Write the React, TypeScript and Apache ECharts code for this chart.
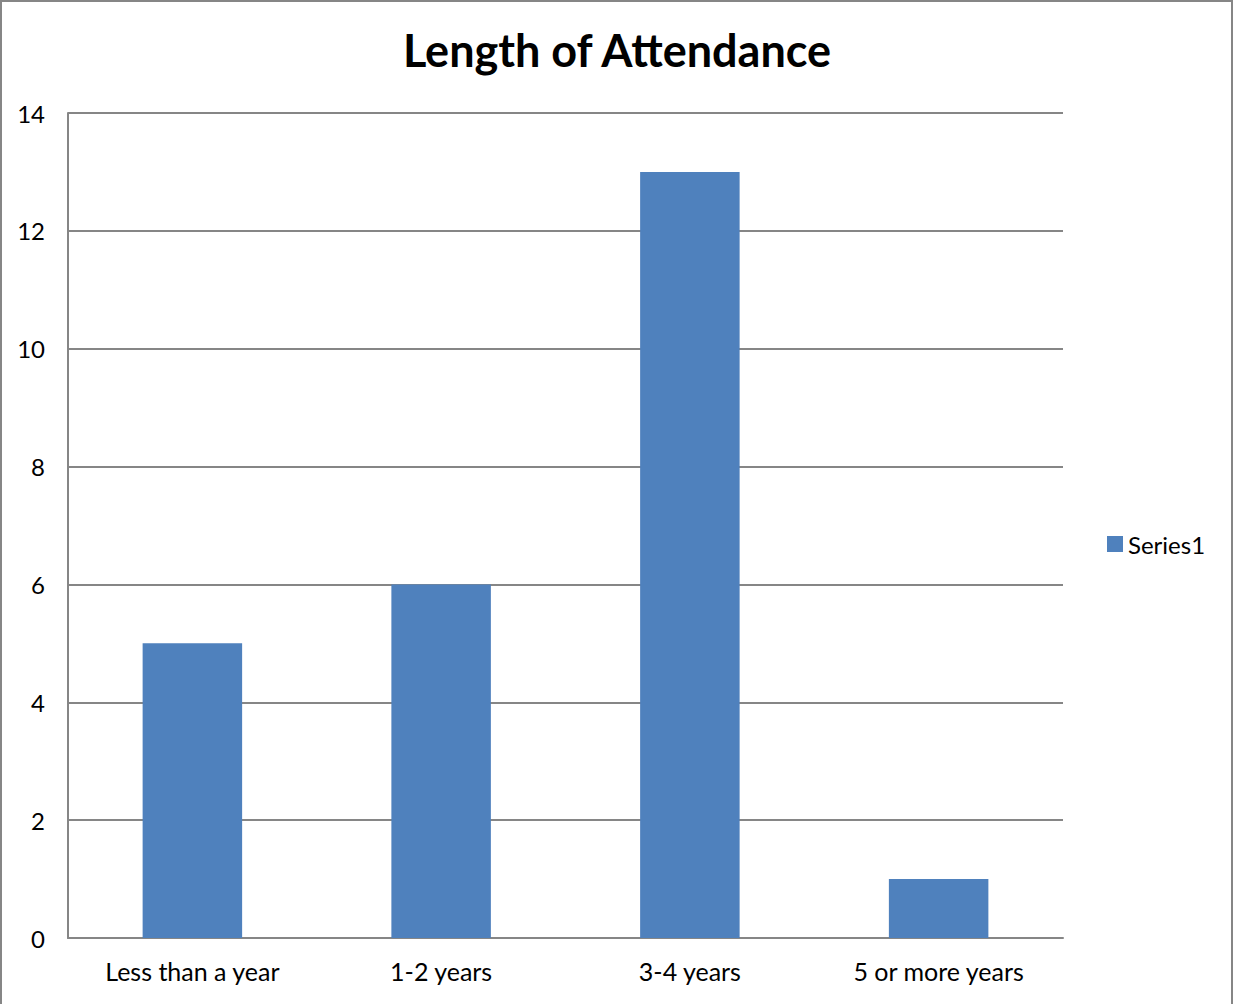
import React, { useEffect, useRef } from "react";
import * as echarts from "echarts";

const categories = ["Less than a year", "1-2 years", "3-4 years", "5 or more years"];
const values = [5, 6, 13, 1];
const seriesName = "Series1";
const titleText = "Length of Attendance";

export default function App() {
  const ref = useRef<HTMLDivElement>(null);
  useEffect(() => {
    const chart = echarts.init(ref.current!, null, { renderer: "svg" });
    const font = "Lato, 'Open Sans', sans-serif";
    chart.setOption({
      animation: false,
      backgroundColor: "#ffffff",
      title: {
        text: titleText,
        left: 612,
        textAlign: "center",
        top: 22,
        textStyle: { fontFamily: font, fontSize: 45, fontWeight: "bold", color: "#000" },
      },
      legend: {
        left: 1102,
        top: 527,
        itemWidth: 16,
        itemHeight: 16,
        itemGap: 5,
        icon: "rect",
        textStyle: { fontFamily: font, fontSize: 24, color: "#000" },
        data: [seriesName],
      },
      graphic: [
        {
          type: "rect",
          shape: { x: 1, y: 1, width: 1231, height: 1010 },
          style: { fill: "none", stroke: "#868686", lineWidth: 2 },
          silent: true,
        },
      ],
      grid: { left: 68, right: 171, top: 113, bottom: 66, containLabel: false },
      xAxis: {
        type: "category",
        data: categories,
        axisLine: { show: true, lineStyle: { color: "#868686", width: 2 } },
        axisTick: { show: false },
        axisLabel: { fontFamily: font, fontSize: 25, color: "#000", margin: 20 },
      },
      yAxis: {
        type: "value",
        min: 0,
        max: 14,
        interval: 2,
        axisLine: { show: true, lineStyle: { color: "#868686", width: 2 } },
        axisTick: { show: false },
        splitLine: { lineStyle: { color: "#868686", width: 2 } },
        axisLabel: { fontFamily: font, fontSize: 24, color: "#000", margin: 23, verticalAlign: "middle", padding: [0, 0, 4, 0] },
      },
      series: [
        {
          name: seriesName,
          type: "bar",
          data: values,
          barWidth: "40%",
          itemStyle: { color: "#4f81bd" },
        },
      ],
    });
    return () => chart.dispose();
  }, []);
  return (
    <div
      ref={ref}
      style={{ position: "fixed", left: 0, top: 0, width: 1234, height: 1004 }}
    />
  );
}
